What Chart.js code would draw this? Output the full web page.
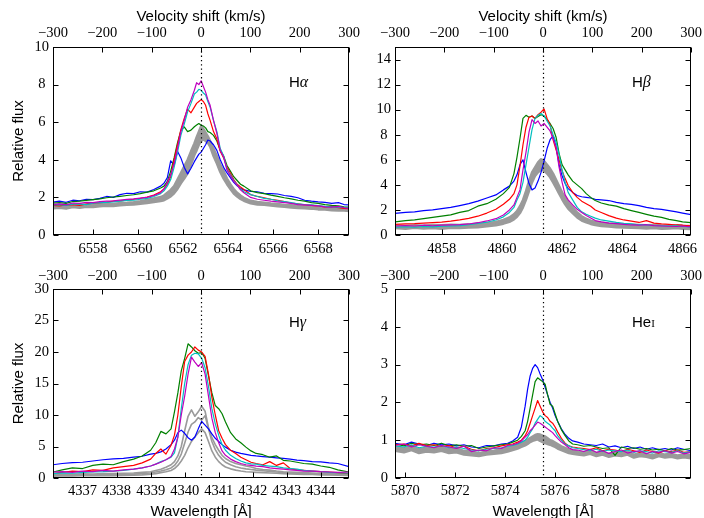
<!DOCTYPE html>
<html><head><meta charset="utf-8"><title>Line profiles</title>
<script src="https://cdn.jsdelivr.net/npm/chart.js@4.4.1/dist/chart.umd.min.js"></script>
<style>
html,body{margin:0;padding:0;background:#fff;overflow:hidden;width:704px;height:518px;}
.pnl{position:absolute;display:block;}
</style></head><body>
<canvas id="cHa" class="pnl" width="372" height="259" style="left:0;top:0;width:372px;height:259px"></canvas>
<canvas id="cHb" class="pnl" width="352" height="259" style="left:352px;top:0;width:352px;height:259px"></canvas>
<canvas id="cHg" class="pnl" width="372" height="263" style="left:0;top:259px;width:372px;height:263px"></canvas>
<canvas id="cHe" class="pnl" width="352" height="263" style="left:352px;top:259px;width:352px;height:263px"></canvas>
<script>
// ---------- shared tick labels ----------
const velTicks = [-300, -200, -100, 0, 100, 200, 300];

// ---------- H alpha ----------
const haRest = 6562.8;
const haRange = [6556.22, 6569.37];
const haXTicks = [6558, 6560, 6562, 6564, 6566, 6568];
const haYTicks = [0, 2, 4, 6, 8, 10];
const haWave = [6556.22,6556.5,6556.8,6557.1,6557.4,6557.7,6558.0,6558.3,6558.6,6558.9,6559.2,6559.5,6559.8,6560.1,6560.4,6560.7,6561.0,
 6561.15,6561.3,6561.45,6561.6,6561.75,6561.9,6562.05,6562.2,6562.35,6562.5,6562.6,6562.7,6562.8,6562.9,6563.0,6563.1,6563.2,6563.35,6563.5,6563.65,6563.8,6563.95,6564.1,6564.25,6564.4,6564.55,6564.7,
 6565.0,6565.3,6565.6,6565.9,6566.2,6566.5,6566.8,6567.1,6567.4,6567.7,6568.0,6568.3,6568.6,6568.9,6569.15,6569.37];
const haBlue = [1.75,1.8,1.74,1.85,1.82,1.9,1.88,1.95,2.05,2.0,2.15,2.22,2.2,2.3,2.28,2.42,2.6,
 2.75,3.05,3.95,3.7,4.45,4.1,3.6,3.25,3.55,3.9,4.1,4.3,4.4,4.6,4.8,5.05,5.0,4.8,4.5,4.0,3.6,3.3,3.05,2.8,2.62,2.48,2.4,
 2.32,2.3,2.22,2.2,2.18,2.1,2.05,1.98,1.85,1.8,1.76,1.74,1.68,1.72,1.62,1.6];
const haGreen = [1.7,1.72,1.68,1.78,1.8,1.84,1.88,1.92,1.98,2.02,2.05,2.1,2.14,2.2,2.28,2.35,2.5,
 2.6,2.85,3.4,4.1,4.9,5.55,5.75,5.5,5.58,5.76,5.85,5.93,5.84,5.8,5.7,5.5,5.45,5.3,5.0,4.5,4.2,3.7,3.4,3.1,2.9,2.7,2.6,
 2.35,2.25,2.2,2.12,2.05,1.98,1.92,1.85,1.8,1.72,1.68,1.62,1.58,1.55,1.5,1.48];
const haRed = [1.58,1.55,1.6,1.62,1.58,1.66,1.7,1.72,1.75,1.8,1.82,1.86,1.9,1.95,2.02,2.12,2.3,
 2.45,2.7,3.1,4.0,4.8,5.6,6.2,6.7,6.5,6.8,7.0,7.1,7.2,7.1,6.9,6.45,6.1,5.5,5.1,4.45,4.1,3.6,3.3,2.95,2.7,2.55,2.42,
 2.15,2.05,1.98,1.9,1.85,1.78,1.7,1.66,1.6,1.58,1.55,1.5,1.52,1.45,1.42,1.4];
const haCyan = [1.6,1.62,1.58,1.64,1.66,1.62,1.7,1.72,1.74,1.76,1.8,1.84,1.85,1.9,1.95,2.05,2.2,
 2.35,2.6,2.95,3.6,4.4,5.3,5.9,6.55,7.0,7.5,7.6,7.75,7.7,7.55,7.45,7.1,6.8,6.1,5.5,4.6,4.2,3.5,3.2,2.9,2.65,2.45,2.3,
 2.15,2.05,1.95,1.9,1.82,1.78,1.72,1.66,1.62,1.6,1.56,1.52,1.5,1.48,1.47,1.45];
const haMagenta = [1.62,1.66,1.6,1.7,1.68,1.74,1.72,1.78,1.8,1.82,1.86,1.9,1.92,1.96,2.0,2.1,2.25,
 2.45,2.8,3.2,3.8,4.6,5.5,6.1,6.8,7.2,7.7,8.1,8.0,8.2,7.9,7.6,7.2,6.9,6.1,5.4,4.5,4.15,3.45,3.15,2.85,2.65,2.4,2.25,
 2.0,1.9,1.85,1.8,1.76,1.72,1.68,1.62,1.6,1.58,1.55,1.5,1.48,1.52,1.45,1.42];
const haGray1 = [1.55,1.52,1.58,1.55,1.6,1.58,1.62,1.64,1.66,1.65,1.7,1.72,1.75,1.8,1.86,1.95,2.02,
 2.1,2.25,2.4,2.6,2.95,3.3,3.65,4.0,4.45,4.87,5.2,5.5,5.8,5.65,5.45,5.25,5.0,4.6,4.2,3.75,3.4,3.0,2.7,2.45,2.25,2.1,1.98,
 1.82,1.76,1.72,1.68,1.65,1.6,1.58,1.55,1.52,1.5,1.46,1.45,1.42,1.4,1.38,1.36];
const haGray2 = [1.42,1.45,1.4,1.48,1.45,1.5,1.48,1.52,1.55,1.54,1.58,1.6,1.62,1.66,1.7,1.75,1.8,
 1.85,1.95,2.05,2.22,2.45,2.75,3.0,3.28,3.75,4.25,4.5,4.8,5.0,5.1,5.0,4.9,4.7,4.2,3.8,3.35,3.0,2.7,2.45,2.2,2.05,1.92,1.82,
 1.68,1.62,1.6,1.56,1.52,1.5,1.46,1.44,1.42,1.4,1.36,1.35,1.32,1.3,1.3,1.28];

// ---------- H beta ----------
const hbRest = 4861.36;
const hbRange = [4856.45, 4866.28];
const hbXTicks = [4858, 4860, 4862, 4864, 4866];
const hbYTicks = [0, 2, 4, 6, 8, 10, 12, 14];
const hbWave = [4856.45,4856.8,4857.1,4857.4,4857.7,4858.0,4858.3,4858.6,4858.9,4859.2,4859.5,4859.8,4860.05,4860.25,
 4860.4,4860.5,4860.6,4860.7,4860.8,4860.9,4861.0,4861.1,4861.2,4861.3,4861.4,4861.5,4861.6,4861.7,4861.8,4861.9,4862.0,4862.1,4862.2,4862.35,4862.5,4862.65,4862.8,4862.95,4863.1,
 4863.3,4863.55,4863.8,4864.05,4864.3,4864.55,4864.8,4865.05,4865.3,4865.55,4865.8,4866.0,4866.28];
const hbBlue = [1.72,1.8,1.85,1.95,2.0,2.1,2.2,2.35,2.5,2.7,2.95,3.2,3.6,3.9,
 4.3,4.8,5.6,6.0,5.0,4.1,3.6,3.75,4.3,5.0,5.9,6.9,7.6,7.9,7.0,5.6,4.7,4.1,3.7,3.4,3.15,3.05,3.0,2.95,2.85,
 2.8,2.75,2.6,2.5,2.45,2.35,2.2,2.1,2.05,1.95,1.85,1.75,1.62];
const hbGreen = [1.05,1.15,1.2,1.3,1.4,1.5,1.6,1.8,1.95,2.3,2.5,2.85,3.3,3.8,
 4.9,6.2,7.7,9.3,9.55,9.4,9.5,9.3,9.45,9.6,9.5,9.2,8.9,8.5,7.8,6.5,5.6,5.2,4.8,4.3,4.0,3.7,3.3,3.0,2.75,
 2.55,2.4,2.3,2.1,1.95,1.8,1.65,1.5,1.4,1.25,1.15,1.05,0.98];
const hbRed = [0.85,0.88,0.9,0.95,0.98,1.02,1.1,1.2,1.32,1.5,1.75,2.05,2.45,2.85,
 3.3,4.0,5.5,7.2,8.6,9.4,9.5,9.3,9.6,9.8,10.05,9.3,8.8,7.6,6.8,6.0,5.1,4.5,3.95,3.4,3.0,2.7,2.5,2.3,2.0,
 1.8,1.55,1.35,1.2,1.1,1.0,1.15,0.95,0.88,0.85,0.8,0.78,0.72];
const hbCyan = [0.62,0.66,0.62,0.68,0.65,0.7,0.72,0.75,0.82,0.92,1.02,1.2,1.45,1.8,
 2.2,2.8,3.3,4.2,5.6,7.0,8.4,9.3,9.55,9.7,9.5,9.1,8.7,8.0,7.4,6.4,5.2,4.2,3.4,2.8,2.2,1.85,1.65,1.5,1.35,
 1.2,1.1,1.0,0.92,0.88,0.82,0.8,0.76,0.74,0.72,0.74,0.68,0.65];
const hbMagenta = [0.72,0.76,0.72,0.78,0.74,0.78,0.8,0.82,0.88,0.98,1.12,1.3,1.6,2.0,
 2.4,3.0,3.6,5.2,6.6,8.2,9.2,8.9,9.1,8.7,8.9,8.6,8.3,7.7,7.0,5.4,4.2,3.2,2.8,2.4,2.05,1.8,1.55,1.35,1.15,
 1.05,0.95,0.9,0.85,0.8,0.78,0.82,0.75,0.72,0.7,0.68,0.72,0.65];
const hbGray1 = [0.75,0.72,0.78,0.75,0.8,0.78,0.82,0.8,0.85,0.9,0.95,1.05,1.2,1.4,
 1.65,1.9,2.3,2.8,3.5,4.3,5.0,5.4,5.8,6.05,5.9,5.6,5.3,4.9,4.4,3.9,3.4,3.0,2.6,2.2,1.8,1.5,1.3,1.15,1.05,
 0.98,0.92,0.88,0.85,0.82,0.8,0.78,0.8,0.76,0.75,0.78,0.74,0.72];
const hbGray2 = [0.55,0.5,0.58,0.52,0.55,0.5,0.58,0.56,0.6,0.62,0.7,0.78,0.9,1.05,
 1.25,1.45,1.75,2.2,2.8,3.5,4.2,4.7,5.0,5.2,5.15,4.9,4.6,4.2,3.75,3.3,2.85,2.45,2.1,1.75,1.4,1.15,1.0,0.88,0.8,
 0.72,0.68,0.62,0.6,0.58,0.55,0.52,0.55,0.5,0.52,0.55,0.5,0.48];

// ---------- H gamma ----------
const hgRest = 4340.48;
const hgRange = [4336.13, 4344.83];
const hgXTicks = [4337, 4338, 4339, 4340, 4341, 4342, 4343, 4344];
const hgYTicks = [0, 5, 10, 15, 20, 25, 30];
const hgWave = [4336.13,4336.4,4336.7,4337.0,4337.3,4337.6,4337.9,4338.2,4338.5,4338.75,4339.0,4339.15,4339.3,4339.45,
 4339.6,4339.7,4339.8,4339.9,4340.0,4340.1,4340.2,4340.3,4340.4,4340.5,4340.6,4340.7,4340.8,4340.9,4341.0,4341.1,4341.2,4341.35,4341.5,4341.65,4341.8,4341.95,
 4342.1,4342.3,4342.5,4342.7,4342.9,4343.1,4343.3,4343.5,4343.75,4344.0,4344.25,4344.5,4344.83];
const hgBlue = [2.1,2.3,2.45,2.5,2.7,2.9,3.05,3.1,3.3,3.45,3.8,3.9,4.15,4.6,
 5.3,6.0,7.2,7.6,7.1,6.4,6.0,6.5,7.8,9.0,8.4,7.8,7.0,6.3,5.8,5.3,4.9,4.4,4.1,3.9,3.75,3.6,
 3.5,3.4,3.3,3.2,3.1,3.0,2.85,2.75,2.6,2.55,2.4,2.3,1.8];
const hgGreen = [0.95,1.3,1.6,1.5,2.0,2.2,2.1,2.6,3.0,3.5,4.4,5.6,7.4,7.0,
 7.8,10.5,13.5,17.0,19.0,21.3,20.8,20.2,19.8,19.9,19.0,16.2,13.5,11.5,11.0,10.2,8.9,7.2,6.2,5.6,4.9,4.3,
 3.9,3.7,3.3,3.5,2.8,2.7,2.5,2.3,2.2,1.9,1.7,1.3,0.95];
const hgRed = [0.7,0.9,1.1,1.0,1.3,1.2,1.6,1.8,2.0,2.4,3.0,3.9,4.6,3.8,
 5.2,6.8,10.0,14.5,18.5,19.5,20.0,20.8,20.3,20.0,19.3,16.5,12.8,10.0,7.5,6.3,5.3,4.4,3.9,3.3,2.9,2.5,
 2.3,2.1,2.6,2.0,2.4,1.5,1.3,1.2,1.1,1.0,0.95,0.85,0.7];
const hgCyan = [0.7,0.8,0.75,0.9,0.95,1.0,1.1,1.2,1.4,1.6,1.9,2.2,2.6,2.9,
 3.3,4.0,6.5,11.0,15.0,18.0,19.5,19.8,19.7,19.0,17.5,14.5,11.0,8.6,6.8,5.3,4.4,3.6,3.1,2.7,2.4,2.25,
 2.2,2.0,1.9,1.8,1.6,1.5,1.4,1.2,1.1,1.0,0.9,0.85,0.75];
const hgMagenta = [0.95,1.0,0.9,1.1,1.0,1.2,1.1,1.3,1.4,1.6,1.9,2.2,2.5,2.9,
 3.4,4.6,6.5,10.0,13.0,16.5,19.2,18.4,17.7,18.3,16.5,13.0,9.5,7.2,5.6,4.3,3.6,3.0,2.6,2.3,2.1,2.0,
 1.9,1.8,1.6,1.5,1.4,1.3,1.2,1.1,1.1,1.0,0.95,0.9,0.95];
const hgGray1 = [0.55,0.6,0.58,0.65,0.62,0.7,0.72,0.75,0.8,0.9,1.0,1.2,1.4,1.7,
 2.1,2.6,3.5,5.0,7.5,9.8,10.8,9.8,10.5,11.4,10.6,8.0,6.4,5.3,4.4,3.6,3.1,2.6,2.3,2.1,1.9,1.75,
 1.5,1.35,1.25,1.1,1.0,0.95,0.9,0.85,0.8,0.75,0.72,0.7,0.68];
const hgGray2 = [0.4,0.45,0.42,0.5,0.48,0.55,0.52,0.6,0.62,0.7,0.8,0.95,1.1,1.3,
 1.6,2.0,2.7,3.8,5.5,7.3,8.5,8.9,9.6,9.2,9.9,7.8,5.8,4.5,3.6,3.0,2.5,2.1,1.8,1.6,1.45,1.35,
 1.25,1.15,1.05,0.95,0.85,0.8,0.75,0.7,0.65,0.6,0.58,0.55,0.52];
const hgGray3 = [0.3,0.35,0.32,0.38,0.35,0.4,0.38,0.42,0.45,0.5,0.6,0.7,0.85,1.0,
 1.2,1.5,2.0,2.7,3.6,4.8,5.8,6.5,7.2,7.8,7.2,5.8,4.3,3.3,2.6,2.1,1.75,1.45,1.25,1.1,1.0,0.95,
 0.9,0.85,0.8,0.75,0.7,0.66,0.62,0.58,0.55,0.5,0.48,0.45,0.42];

// ---------- He I ----------
const heRest = 5875.52;
const heRange = [5869.59, 5881.44];
const heXTicks = [5870, 5872, 5874, 5876, 5878, 5880];
const heYTicks = [0, 1, 2, 3, 4, 5];
const heWave = [5869.59,5869.95,5870.25,5870.55,5870.85,5871.15,5871.45,5871.75,5872.05,5872.35,5872.65,5872.95,5873.25,5873.55,5873.85,5874.1,5874.3,5874.5,
 5874.65,5874.8,5874.9,5875.0,5875.1,5875.2,5875.3,5875.4,5875.5,5875.6,5875.7,5875.8,5875.9,5876.0,5876.1,5876.25,5876.4,5876.55,5876.7,
 5876.9,5877.15,5877.4,5877.65,5877.9,5878.15,5878.4,5878.65,5878.9,5879.15,5879.4,5879.65,5879.9,5880.15,5880.4,5880.65,5880.9,5881.15,5881.44];
const heBlue = [0.92,0.88,0.95,0.9,0.86,0.92,0.88,0.9,0.85,0.88,0.82,0.8,0.86,0.85,0.9,0.92,0.98,1.08,
 1.35,1.9,2.35,2.7,2.9,3.0,2.92,2.75,2.6,2.4,2.2,2.0,1.85,1.65,1.5,1.3,1.15,1.05,0.98,
 0.95,0.9,0.88,0.86,0.9,0.82,0.85,0.8,0.84,0.78,0.82,0.76,0.8,0.75,0.78,0.74,0.8,0.76,0.72];
const heGreen = [0.9,0.85,0.92,0.88,0.9,0.86,0.92,0.85,0.88,0.84,0.86,0.78,0.82,0.85,0.88,0.9,0.95,1.0,
 1.1,1.25,1.5,1.85,2.2,2.55,2.65,2.6,2.55,2.48,2.2,1.95,1.9,1.7,1.5,1.28,1.12,0.98,0.9,
 0.88,0.84,0.86,0.82,0.78,0.8,0.6,0.82,0.78,0.8,0.76,0.78,0.74,0.76,0.72,0.78,0.74,0.75,0.78];
const heRed = [0.88,0.9,0.85,0.92,0.86,0.88,0.84,0.86,0.8,0.84,0.76,0.72,0.78,0.8,0.85,0.88,0.9,0.95,
 1.0,1.12,1.25,1.45,1.65,1.85,2.05,1.9,1.75,1.65,1.6,1.5,1.45,1.35,1.22,1.05,0.92,0.85,0.82,
 0.8,0.78,0.75,0.8,0.72,0.76,0.74,0.7,0.76,0.72,0.68,0.74,0.7,0.66,0.72,0.7,0.74,0.68,0.7];
const heCyan = [0.85,0.82,0.88,0.8,0.84,0.82,0.86,0.8,0.82,0.78,0.74,0.72,0.76,0.78,0.8,0.84,0.86,0.9,
 0.95,1.0,1.08,1.2,1.3,1.45,1.55,1.65,1.6,1.5,1.45,1.4,1.32,1.25,1.12,1.0,0.9,0.85,0.8,
 0.78,0.75,0.72,0.76,0.7,0.74,0.72,0.7,0.74,0.68,0.72,0.7,0.66,0.72,0.7,0.68,0.72,0.66,0.7];
const heMagenta = [0.86,0.9,0.82,0.88,0.84,0.8,0.86,0.82,0.78,0.84,0.7,0.74,0.72,0.8,0.78,0.86,0.88,0.92,
 0.98,1.08,1.15,1.25,1.32,1.4,1.48,1.45,1.4,1.35,1.3,1.25,1.2,1.12,1.05,0.95,0.88,0.8,0.75,
 0.74,0.7,0.76,0.68,0.72,0.65,0.7,0.74,0.66,0.7,0.72,0.64,0.7,0.68,0.72,0.66,0.7,0.64,0.68];
const heGray1 = [0.82,0.78,0.84,0.76,0.8,0.78,0.82,0.76,0.78,0.72,0.7,0.66,0.7,0.72,0.76,0.8,0.84,0.88,
 0.92,0.98,1.02,1.06,1.1,1.14,1.16,1.15,1.12,1.1,1.05,1.0,0.98,0.94,0.9,0.84,0.8,0.76,0.72,
 0.7,0.68,0.72,0.66,0.7,0.64,0.68,0.66,0.7,0.62,0.66,0.64,0.6,0.66,0.62,0.64,0.6,0.62,0.6];
const heGray2 = [0.72,0.68,0.74,0.66,0.7,0.68,0.72,0.66,0.68,0.62,0.6,0.58,0.62,0.64,0.66,0.7,0.74,0.78,
 0.82,0.86,0.9,0.95,0.98,1.0,1.02,0.98,0.95,0.92,0.9,0.88,0.85,0.82,0.78,0.74,0.7,0.66,0.64,
 0.62,0.6,0.64,0.58,0.62,0.56,0.6,0.58,0.62,0.54,0.58,0.56,0.52,0.58,0.54,0.56,0.52,0.55,0.52];

// ---------- drawing ----------
const SERIF = '"Liberation Serif","Times New Roman",serif';
const SANS = '"Liberation Sans",Arial,Helvetica,sans-serif';
const C = {blue:'#0000ff', green:'#008000', red:'#ff0000', cyan:'#00bfbf', magenta:'#bf00bf', gray:'#9a9a9a'};

function setTicks(list) { return s => { s.ticks = list.map(v => ({value: v})); }; }
function minusFmt(v) { return v < 0 ? '\u2212' + Math.abs(v) : String(v); }

function makePanel(id, p) {
  const datasets = p.series.map(s => ({
    label: s.name,
    data: p.wave.map((w, i) => ({x: w, y: s.values[i]})),
    borderColor: s.color, backgroundColor: s.color, borderWidth: s.width,
    pointRadius: 0, tension: 0, fill: s.fill === undefined ? false : s.fill, order: s.order, borderJoinStyle: 'round'
  }));
  const tickFont = {family: SERIF, size: 14.5};
  const decor = {
    id: 'decor',
    afterDatasetsDraw(chart) {
      const {ctx, chartArea: a, scales} = chart;
      const x0 = Math.round(scales.x.getPixelForValue(p.rest)) + 0.5;
      ctx.save();
      ctx.strokeStyle = '#000'; ctx.lineWidth = 1.2; ctx.setLineDash([1.3, 3]);
      ctx.beginPath(); ctx.moveTo(x0, a.top); ctx.lineTo(x0, a.bottom); ctx.stroke();
      ctx.restore();
    },
    afterDraw(chart) {
      const {ctx, chartArea: a, scales} = chart;
      ctx.save();
      ctx.strokeStyle = '#000'; ctx.lineWidth = 1; ctx.setLineDash([]);
      const L = Math.round(a.left) + 0.5, R = Math.round(a.right) - 0.5;
      const T = Math.round(a.top) + 0.5, B = Math.round(a.bottom) - 0.5;
      ctx.strokeRect(L, T, R - L, B - T);
      ctx.beginPath();
      scales.x.ticks.forEach(t => { const px = Math.round(scales.x.getPixelForValue(t.value)) + 0.5; ctx.moveTo(px, B); ctx.lineTo(px, B - 5); });
      scales.x2.ticks.forEach(t => { const px = Math.round(scales.x2.getPixelForValue(t.value)) + 0.5; ctx.moveTo(px, T); ctx.lineTo(px, T + 5); });
      scales.y.ticks.forEach(t => { const py = Math.round(scales.y.getPixelForValue(t.value)) + 0.5; ctx.moveTo(L, py); ctx.lineTo(L + 5, py); ctx.moveTo(R, py); ctx.lineTo(R - 5, py); });
      ctx.stroke();
      ctx.fillStyle = '#000'; ctx.textBaseline = 'alphabetic'; ctx.textAlign = 'left';
      let cx = a.left + p.labelDX; const cy = a.top + p.labelDY;
      p.label.forEach(part => { ctx.font = part.font; ctx.fillText(part.text, cx, cy); cx += ctx.measureText(part.text).width; });
      ctx.restore();
    }
  };
  new Chart(document.getElementById(id), {
    type: 'line',
    data: {datasets},
    plugins: [decor],
    options: {
      responsive: false, animation: false, events: [], devicePixelRatio: 1,
      layout: {padding: {left: 0, right: p.padRight, top: 0, bottom: 0}},
      plugins: {legend: {display: false}, tooltip: {enabled: false}, filler: {propagate: false}},
      scales: {
        x: {
          type: 'linear', position: 'bottom', min: p.range[0], max: p.range[1],
          afterBuildTicks: setTicks(p.xTicks),
          afterFit: s => { s.height = p.bottomH; s.paddingLeft = 0; s.paddingRight = 0; },
          ticks: {font: tickFont, color: '#000', padding: p.xPad, maxRotation: 0, minRotation: 0, autoSkip: false, callback: v => String(v)},
          grid: {display: false, drawTicks: false}, border: {display: false},
          title: {display: p.xTitle, text: 'Wavelength [Å]', color: '#000', font: {family: SANS, size: 15}, padding: {top: 0, bottom: 1.3}}
        },
        x2: {
          type: 'linear', position: 'top', min: -300, max: 300,
          afterBuildTicks: setTicks(velTicks),
          afterFit: s => { s.height = p.topH; s.paddingLeft = 0; s.paddingRight = 0; },
          ticks: {font: tickFont, color: '#000', padding: p.vPad, maxRotation: 0, minRotation: 0, autoSkip: false, callback: v => minusFmt(v)},
          grid: {display: false, drawTicks: false}, border: {display: false},
          title: {display: p.vTitle, text: 'Velocity shift (km/s)', color: '#000', font: {family: SANS, size: 15}, padding: {top: 8, bottom: 0}}
        },
        y: {
          type: 'linear', position: 'left', min: 0, max: p.ymax,
          afterBuildTicks: setTicks(p.yTicks),
          afterFit: s => { s.width = p.leftW; s.paddingTop = 0; s.paddingBottom = 0; },
          ticks: {font: tickFont, color: '#000', padding: p.yPad, crossAlign: 'center', autoSkip: false, callback: v => String(v)},
          grid: {display: false, drawTicks: false}, border: {display: false},
          title: {display: p.yTitle, text: 'Relative flux', color: '#000', font: {family: SANS, size: 15}, padding: {top: 10, bottom: 0}}
        }
      }
    }
  });
}

// grays: first dataset is the upper edge; with band=true the lower edge is filled up to it
function seriesSet(b, g, r, c, m, grays, grayW, band) {
  const out = grays.map((v, i) => ({name: 'gray' + (i + 1), values: v, color: C.gray, width: grayW, order: 10 + i,
    fill: (band && i === 1) ? 0 : false}));
  return out.concat([
    {name: 'blue', values: b, color: C.blue, width: 1.2, order: 5},
    {name: 'green', values: g, color: C.green, width: 1.2, order: 4},
    {name: 'red', values: r, color: C.red, width: 1.2, order: 3},
    {name: 'cyan', values: c, color: C.cyan, width: 1.2, order: 2},
    {name: 'magenta', values: m, color: C.magenta, width: 1.2, order: 1}
  ]);
}

const greek = t => ({text: t, font: 'italic 16px ' + SERIF});
const sansT = t => ({text: t, font: '15px ' + SANS});

makePanel('cHa', {
  wave: haWave, range: haRange, rest: haRest, xTicks: haXTicks, yTicks: haYTicks, ymax: 10,
  series: seriesSet(haBlue, haGreen, haRed, haCyan, haMagenta, [haGray1, haGray2], 2.4, true),
  padRight: 23, leftW: 53, topH: 47, bottomH: 24, xPad: 5, vPad: 5, yPad: 4,
  xTitle: false, vTitle: true, yTitle: true,
  label: [sansT('H'), greek('α')], labelDX: 236, labelDY: 40
});
makePanel('cHb', {
  wave: hbWave, range: hbRange, rest: hbRest, xTicks: hbXTicks, yTicks: hbYTicks, ymax: 15,
  series: seriesSet(hbBlue, hbGreen, hbRed, hbCyan, hbMagenta, [hbGray1, hbGray2], 2.4, true),
  padRight: 13, leftW: 43, topH: 47, bottomH: 24, xPad: 5, vPad: 5, yPad: 4,
  xTitle: false, vTitle: true, yTitle: false,
  label: [sansT('H'), greek('β')], labelDX: 237, labelDY: 40
});
makePanel('cHg', {
  wave: hgWave, range: hgRange, rest: hgRest, xTicks: hgXTicks, yTicks: hgYTicks, ymax: 30,
  series: seriesSet(hgBlue, hgGreen, hgRed, hgCyan, hgMagenta, [hgGray1, hgGray2, hgGray3], 1.6, false),
  padRight: 23, leftW: 53, topH: 30, bottomH: 44, xPad: 4, vPad: 4, yPad: 4,
  xTitle: true, vTitle: false, yTitle: true,
  label: [sansT('H'), greek('γ')], labelDX: 236, labelDY: 38
});
makePanel('cHe', {
  wave: heWave, range: heRange, rest: heRest, xTicks: heXTicks, yTicks: heYTicks, ymax: 5,
  series: seriesSet(heBlue, heGreen, heRed, heCyan, heMagenta, [heGray1, heGray2], 2.4, true),
  padRight: 13, leftW: 43, topH: 30, bottomH: 44, xPad: 4, vPad: 4, yPad: 7,
  xTitle: true, vTitle: false, yTitle: false,
  label: [sansT('He'), {text: 'I', font: '11px ' + SERIF}], labelDX: 237, labelDY: 38
});
</script>
</body></html>
